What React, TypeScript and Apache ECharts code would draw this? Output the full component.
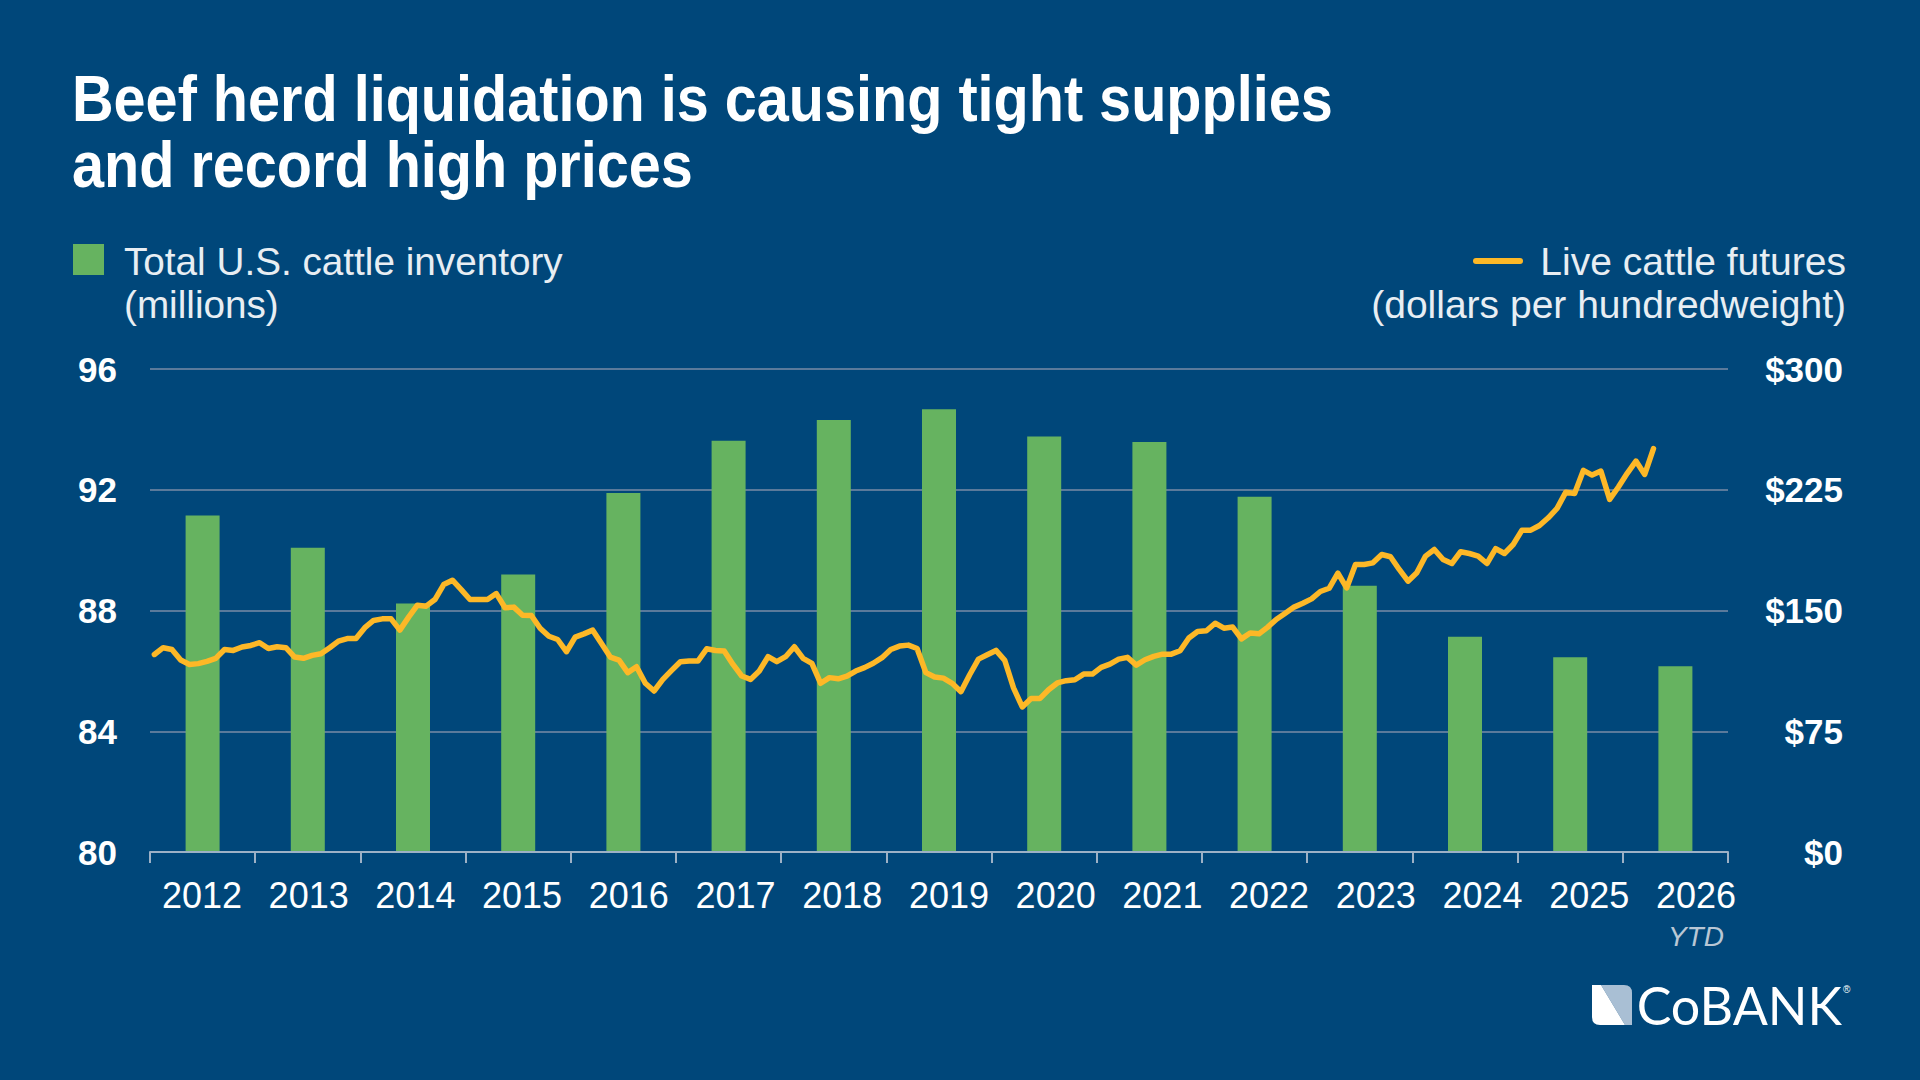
import React, { useEffect, useRef } from "react";
import * as echarts from "echarts";

// ---------- data ----------
const years = ["2012", "2013", "2014", "2015", "2016", "2017", "2018", "2019", "2020", "2021", "2022", "2023", "2024", "2025", "2026"];

// Total U.S. cattle inventory (millions), one bar per year
const inventory = [91.15, 90.08, 88.23, 89.19, 91.89, 93.62, 94.31, 94.67, 93.76, 93.58, 91.77, 88.82, 87.13, 86.45, 86.15];

// Live cattle futures (dollars per hundredweight), monthly from Jan 2012
const futures = [
  122.7, 126.9, 125.8, 119.2, 116.5, 117, 118.4, 120.3, 125.8, 125.2, 127.3, 128.3,
  130, 126.4, 127.5, 126.9, 121.1, 120.3, 122.1, 123.1, 126.9, 131, 132.6, 132.6,
  139.3, 143.8, 144.8, 144.8, 137.8, 145.9, 153.3, 152.7, 156.8, 166.1, 168.8, 163,
  156.8, 156.8, 156.8, 160.5, 151.7, 152.1, 147.1, 146.9, 139, 134, 132, 124.4,
  133.5, 135.5, 137.8, 129.5, 121.1, 119.2, 111.4, 115.1, 104.8, 100, 107.2, 112.8,
  118.2, 118.6, 118.6, 126.2, 125.2, 124.8, 116.5, 109.3, 107.2, 112.4, 121.3, 118.2,
  121.3, 127.5, 120.3, 117.2, 104.8, 108.3, 107.6, 109.3, 112.4, 114.5, 117.2, 120.7,
  125.8, 127.9, 128.5, 126.4, 111.4, 108.7, 108, 104.8, 99.6, 110.1, 119.8, 122.5,
  125.2, 119, 101.9, 90.1, 95.3, 95.3, 100.8, 105, 106.4, 107, 110.5, 110.5,
  114.7, 116.7, 119.8, 120.9, 116.1, 119.4, 121.5, 122.9, 122.9, 125, 132.9, 137,
  137.4, 142.1, 139, 139.7, 132.4, 136, 135.5, 139.7, 144.6, 148.3, 152.1, 154.5,
  157.2, 161.8, 163.8, 173.2, 164, 178.5, 178.6, 179.6, 184.8, 183.4, 175.5, 168.2,
  173.4, 183.8, 187.9, 181.7, 179.2, 186.5, 185.4, 183.8, 179.2, 188.5, 185.4, 191,
  199.9, 199.9, 202.8, 207.6, 213.4, 223.5, 222.7, 237, 234.1, 236.6, 219, 226.7,
  235.2, 242.8, 234.5, 250.5,
];

const leftTicks = [80, 84, 88, 92, 96];
const rightTicks = [0, 75, 150, 225, 300];

const titleText = "Beef herd liquidation is causing tight supplies\nand record high prices";
const barLegendText = "Total U.S. cattle inventory\n(millions)";
const lineLegendText = "Live cattle futures\n(dollars per hundredweight)";

// month categories for the line's own (hidden) axis
const monthLabels = years.flatMap((y) =>
  Array.from({ length: 12 }, (_, m) => `${y}-${String(m + 1).padStart(2, "0")}`)
);

// ---------- styles ----------
const BG = "#00477A";
const GREEN = "#66B360";
const GOLD = "#FDB827";
const FONT = '"Liberation Sans", Arial, sans-serif';

let shapesRegistered = false;
function registerShapes() {
  if (shapesRegistered) return;
  shapesRegistered = true;
  echarts.graphic.registerShape(
    "cobankWhite",
    echarts.graphic.extendPath("M0 0 L9 0 L33 40 L8 40 Q0 40 0 32 Z", {})
  );
  echarts.graphic.registerShape(
    "cobankBlue",
    echarts.graphic.extendPath("M9 0 L32 0 Q40 0 40 8 L40 40 L33 40 Z", {})
  );
}

export default function App() {
  const ref = useRef<HTMLDivElement>(null);

  useEffect(() => {
    document.body.style.margin = "0";
    document.body.style.overflow = "hidden";
    registerShapes();
    const chart = echarts.init(ref.current!, undefined, { renderer: "svg" });

    const option: any = {
      animation: false,
      backgroundColor: BG,
      grid: [
        { left: 150, right: 192, top: 369, bottom: 228, containLabel: false },
        // slightly wider band used only to place the year labels as in the source
        { left: 148.6, right: 170.7, top: 369, bottom: 228, containLabel: false },
      ],
      xAxis: [
        {
          type: "category",
          gridIndex: 0,
          data: years,
          boundaryGap: true,
          axisLine: { show: true, lineStyle: { color: "#9DB1C6", width: 2 } },
          axisTick: { show: true, length: 11, alignWithLabel: false, lineStyle: { color: "#9DB1C6", width: 2 } },
          splitLine: { show: false },
          axisLabel: { show: false },
          z: 5,
        },
        {
          type: "category",
          gridIndex: 0,
          data: monthLabels,
          boundaryGap: true,
          show: false,
        },
        {
          type: "category",
          gridIndex: 1,
          data: years,
          boundaryGap: true,
          axisLine: { show: false },
          axisTick: { show: false },
          splitLine: { show: false },
          axisLabel: {
            color: "#FFFFFF",
            fontFamily: FONT,
            fontSize: 36,
            lineHeight: 42,
            margin: 22,
            interval: 0,
            formatter: (v: string) => (v === "2026" ? "2026\n{ytd|YTD}" : v),
            rich: {
              ytd: {
                fontFamily: FONT,
                fontSize: 28,
                fontStyle: "italic",
                color: "#B9C7D5",
                lineHeight: 40,
              },
            },
          },
        },
      ],
      yAxis: [
        {
          type: "value",
          gridIndex: 0,
          position: "left",
          min: leftTicks[0],
          max: leftTicks[leftTicks.length - 1],
          interval: leftTicks[1] - leftTicks[0],
          axisLine: { show: false },
          axisTick: { show: false },
          splitLine: { show: true, lineStyle: { color: "#5A7A9B", width: 2 } },
          axisLabel: {
            color: "#FFFFFF",
            fontFamily: FONT,
            fontWeight: "bold",
            fontSize: 35,
            margin: 33,
          },
        },
        {
          type: "value",
          gridIndex: 0,
          position: "right",
          min: rightTicks[0],
          max: rightTicks[rightTicks.length - 1],
          interval: rightTicks[1] - rightTicks[0],
          axisLine: { show: false },
          axisTick: { show: false },
          splitLine: { show: false },
          axisLabel: {
            color: "#FFFFFF",
            fontFamily: FONT,
            fontWeight: "bold",
            fontSize: 35,
            margin: 115,
            align: "right",
            formatter: (v: number) => "$" + v,
          },
        },
        {
          type: "value",
          gridIndex: 1,
          show: false,
          min: 0,
          max: 1,
        },
      ],
      series: [
        {
          name: "Total U.S. cattle inventory",
          type: "bar",
          xAxisIndex: 0,
          yAxisIndex: 0,
          data: inventory,
          barWidth: 34,
          itemStyle: { color: GREEN },
          z: 2,
        },
        {
          name: "Live cattle futures",
          type: "line",
          xAxisIndex: 1,
          yAxisIndex: 1,
          data: futures,
          symbol: "none",
          lineStyle: { color: GOLD, width: 5.5, join: "round", cap: "round" },
          z: 3,
        },
      ],
      graphic: [
        {
          type: "text",
          x: 72,
          y: 65.7,
          scaleX: 0.9,
          style: {
            text: titleText,
            fill: "#FFFFFF",
            fontFamily: FONT,
            fontWeight: "bold",
            fontSize: 64,
            lineHeight: 66,
            verticalAlign: "top",
            textAlign: "left",
          },
        },
        {
          type: "rect",
          shape: { x: 73, y: 244, width: 31, height: 31 },
          style: { fill: GREEN },
        },
        {
          type: "text",
          x: 124,
          y: 240,
          style: {
            text: barLegendText,
            fill: "#E8EEF3",
            fontFamily: FONT,
            fontSize: 38.7,
            lineHeight: 43,
            verticalAlign: "top",
            textAlign: "left",
          },
        },
        {
          type: "line",
          shape: { x1: 1476, y1: 261, x2: 1520, y2: 261 },
          style: { stroke: GOLD, lineWidth: 6, lineCap: "round" },
        },
        {
          type: "text",
          x: 1846,
          y: 240,
          style: {
            text: lineLegendText,
            fill: "#E8EEF3",
            fontFamily: FONT,
            fontSize: 39,
            lineHeight: 43,
            verticalAlign: "top",
            textAlign: "right",
          },
        },
        {
          type: "cobankBlue",
          x: 1592,
          y: 985,
          style: { fill: "#A9BFD4" },
        },
        {
          type: "cobankWhite",
          x: 1592,
          y: 985,
          style: { fill: "#FFFFFF" },
        },
        {
          type: "text",
          x: 1842,
          y: 1005,
          style: {
            text: "CoBANK",
            fill: "#FFFFFF",
            fontFamily: "Lato, sans-serif",
            fontSize: 52,
            verticalAlign: "middle",
            textAlign: "right",
          },
        },
        {
          type: "text",
          x: 1843,
          y: 984,
          style: {
            text: "®",
            fill: "#FFFFFF",
            fontFamily: FONT,
            fontSize: 10,
            verticalAlign: "top",
            textAlign: "left",
          },
        },
      ],
    };

    chart.setOption(option);
    return () => chart.dispose();
  }, []);

  return (
    <div
      ref={ref}
      style={{ position: "absolute", left: 0, top: 0, width: 1920, height: 1080 }}
    />
  );
}
